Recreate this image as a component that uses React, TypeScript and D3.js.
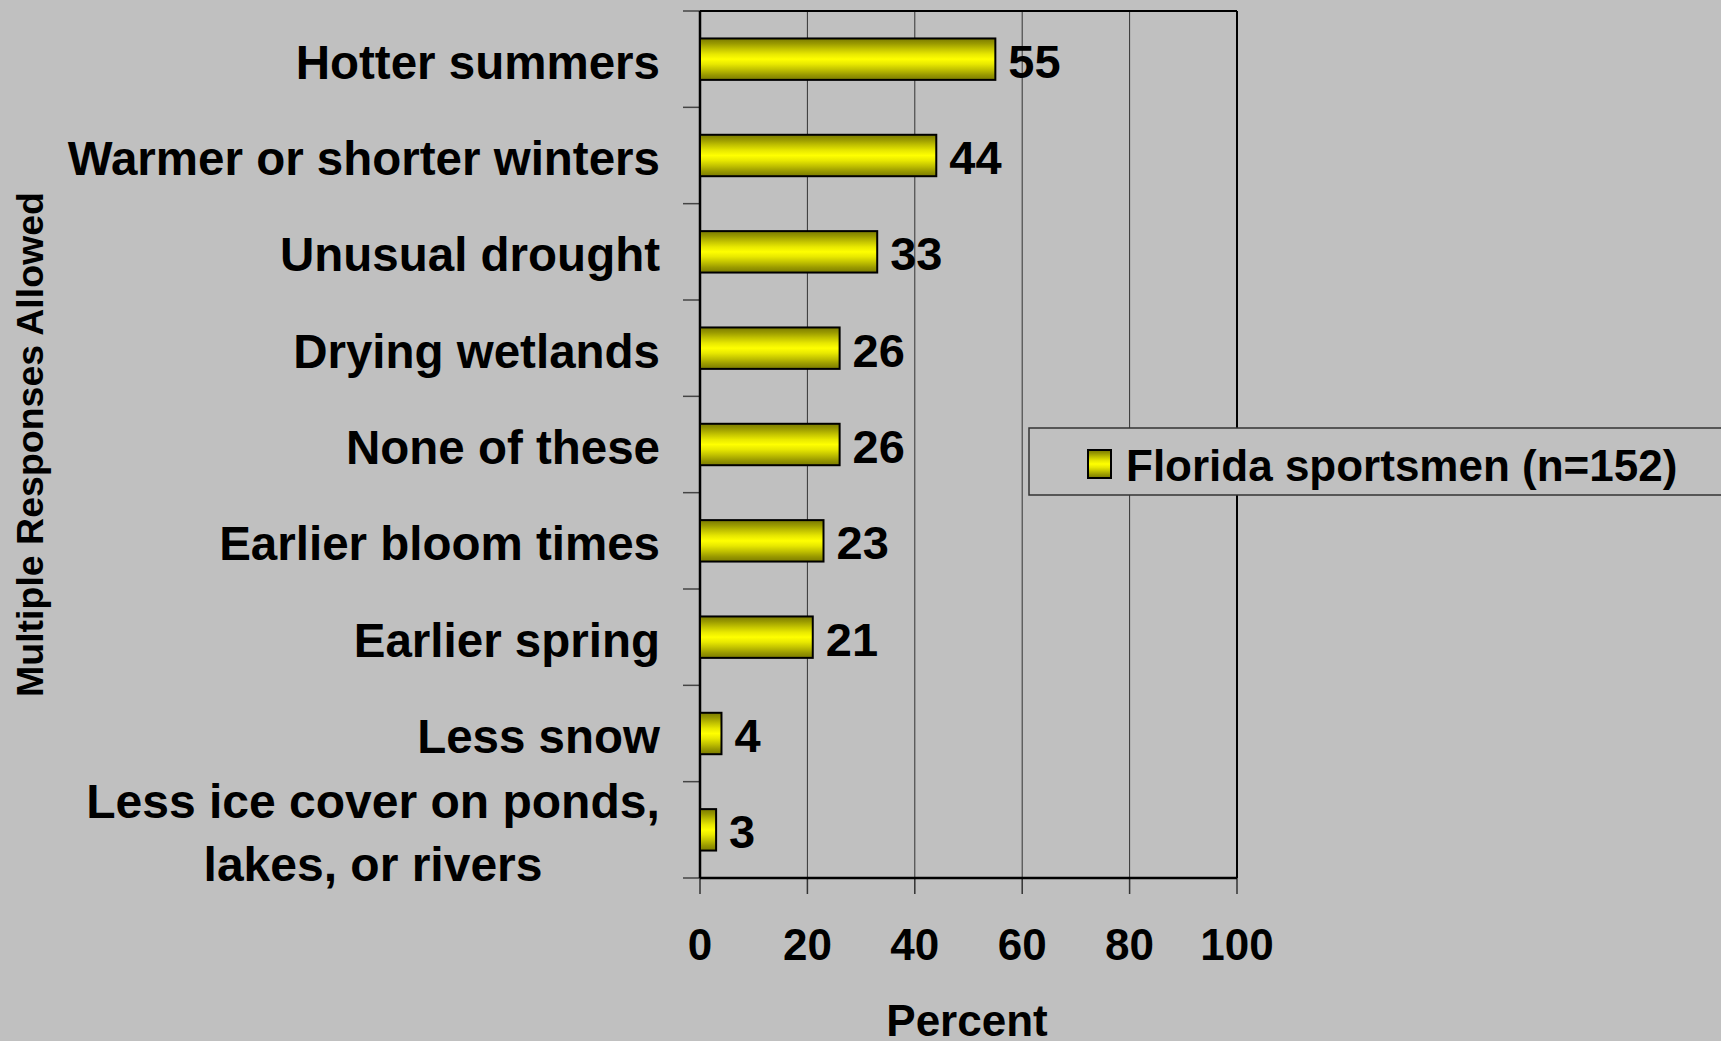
import React from "react";
import * as d3 from "d3";

const categories = [
  "Hotter summers",
  "Warmer or shorter winters",
  "Unusual drought",
  "Drying wetlands",
  "None of these",
  "Earlier bloom times",
  "Earlier spring",
  "Less snow",
  "Less ice cover on ponds,\nlakes, or rivers",
];
const values = [55, 44, 33, 26, 26, 23, 21, 4, 3];
const xTicks = [0, 20, 40, 60, 80, 100];
const seriesName = "Florida sportsmen (n=152)";
const xTitle = "Percent";
const yTitle = "Multiple Responses Allowed";

const W = 1721;
const H = 1041;
const m = { left: 700, right: 1237, top: 11, bottom: 878 };
const FONT = "'Liberation Sans', Arial, Helvetica, sans-serif";

export default function App() {
  const x = d3.scaleLinear().domain([0, 100]).range([m.left, m.right]);
  const y = d3
    .scaleBand<string>()
    .domain(categories)
    .range([m.top, m.bottom])
    .paddingInner(0.57)
    .paddingOuter(0.285);
  const bandEdges = d3.range(categories.length + 1).map((i) => m.top + i * ((m.bottom - m.top) / categories.length));

  const gradStops = [
    [0, "#7a7a00"],
    [0.12, "#999900"],
    [0.25, "#c2c200"],
    [0.38, "#e8e800"],
    [0.5, "#ffff00"],
    [0.62, "#e8e800"],
    [0.75, "#c2c200"],
    [0.88, "#999900"],
    [1, "#7a7a00"],
  ];

  return (
    <svg
      width={W}
      height={H}
      style={{ position: "absolute", left: 0, top: 0, display: "block" }}
      fontFamily={FONT}
    >
      <defs>
        <linearGradient id="barGrad" x1="0" y1="0" x2="0" y2="1">
          {gradStops.map(([o, c], i) => (
            <stop key={i} offset={o as number} stopColor={c as string} />
          ))}
        </linearGradient>
      </defs>
      <rect x={0} y={0} width={W} height={H} fill="#c0c0c0" />

      {/* gridlines */}
      {xTicks.slice(1, -1).map((t) => (
        <line key={t} x1={x(t)} x2={x(t)} y1={m.top} y2={m.bottom} stroke="#333" strokeWidth={1} />
      ))}

      {/* y ticks */}
      {bandEdges.map((yy, i) => (
        <line key={i} x1={683} x2={m.left} y1={yy} y2={yy} stroke="#444" strokeWidth={1.5} />
      ))}
      {/* x ticks */}
      {xTicks.map((t) => (
        <line key={t} x1={x(t)} x2={x(t)} y1={m.bottom} y2={m.bottom + 16} stroke="#333" strokeWidth={1.5} />
      ))}

      {/* frame */}
      <line x1={m.left} x2={m.right} y1={m.top} y2={m.top} stroke="#000" strokeWidth={2} />
      <line x1={m.right} x2={m.right} y1={m.top} y2={m.bottom} stroke="#000" strokeWidth={2} />
      <line x1={m.left} x2={m.left} y1={m.top} y2={m.bottom} stroke="#000" strokeWidth={2.5} />
      <line x1={m.left} x2={m.right} y1={m.bottom} y2={m.bottom} stroke="#000" strokeWidth={2.5} />

      {/* bars */}
      {categories.map((c, i) => (
        <g key={c}>
          <rect
            x={x(0)}
            y={y(c)}
            width={x(values[i]) - x(0)}
            height={y.bandwidth()}
            fill="url(#barGrad)"
            stroke="#000"
            strokeWidth={2}
          />
          <text
            x={x(values[i]) + 13}
            y={(y(c) as number) + y.bandwidth() / 2 + 2}
            dominantBaseline="central"
            fontSize={47}
            fontWeight="bold"
            fill="#000"
          >
            {values[i]}
          </text>
        </g>
      ))}

      {/* category labels */}
      {categories.map((c) => {
        const cy = (y(c) as number) + y.bandwidth() / 2 + 3;
        const lines = c.split("\n");
        if (lines.length === 1) {
          return (
            <text key={c} x={660} y={cy} textAnchor="end" dominantBaseline="central" fontSize={47.5} fontWeight="bold">
              {c}
            </text>
          );
        }
        const lh = 63;
        return (
          <text key={c} x={373} textAnchor="middle" fontSize={48} fontWeight="bold">
            {lines.map((l, j) => (
              <tspan key={j} x={373} y={cy + (j - (lines.length - 1) / 2) * lh} dominantBaseline="central">
                {l}
              </tspan>
            ))}
          </text>
        );
      })}

      {/* x tick labels */}
      {xTicks.map((t) => (
        <text key={t} x={x(t)} y={944} textAnchor="middle" dominantBaseline="central" fontSize={44} fontWeight="bold">
          {t}
        </text>
      ))}

      {/* axis titles */}
      <text x={967} y={1036} textAnchor="middle" fontSize={44} fontWeight="bold">
        {xTitle}
      </text>
      <text
        transform={`translate(30,${(m.top + m.bottom) / 2}) rotate(-90)`}
        textAnchor="middle"
        dominantBaseline="central"
        fontSize={37.5}
        fontWeight="bold"
      >
        {yTitle}
      </text>

      {/* legend */}
      <rect x={1029} y={428} width={720} height={67} fill="#c0c0c0" stroke="#333" strokeWidth={1.5} />
      <rect x={1088} y={450} width={23} height={28} fill="url(#barGrad)" stroke="#000" strokeWidth={2} />
      <text x={1126} y={465} dominantBaseline="central" fontSize={44} fontWeight="bold">
        {seriesName}
      </text>
    </svg>
  );
}
